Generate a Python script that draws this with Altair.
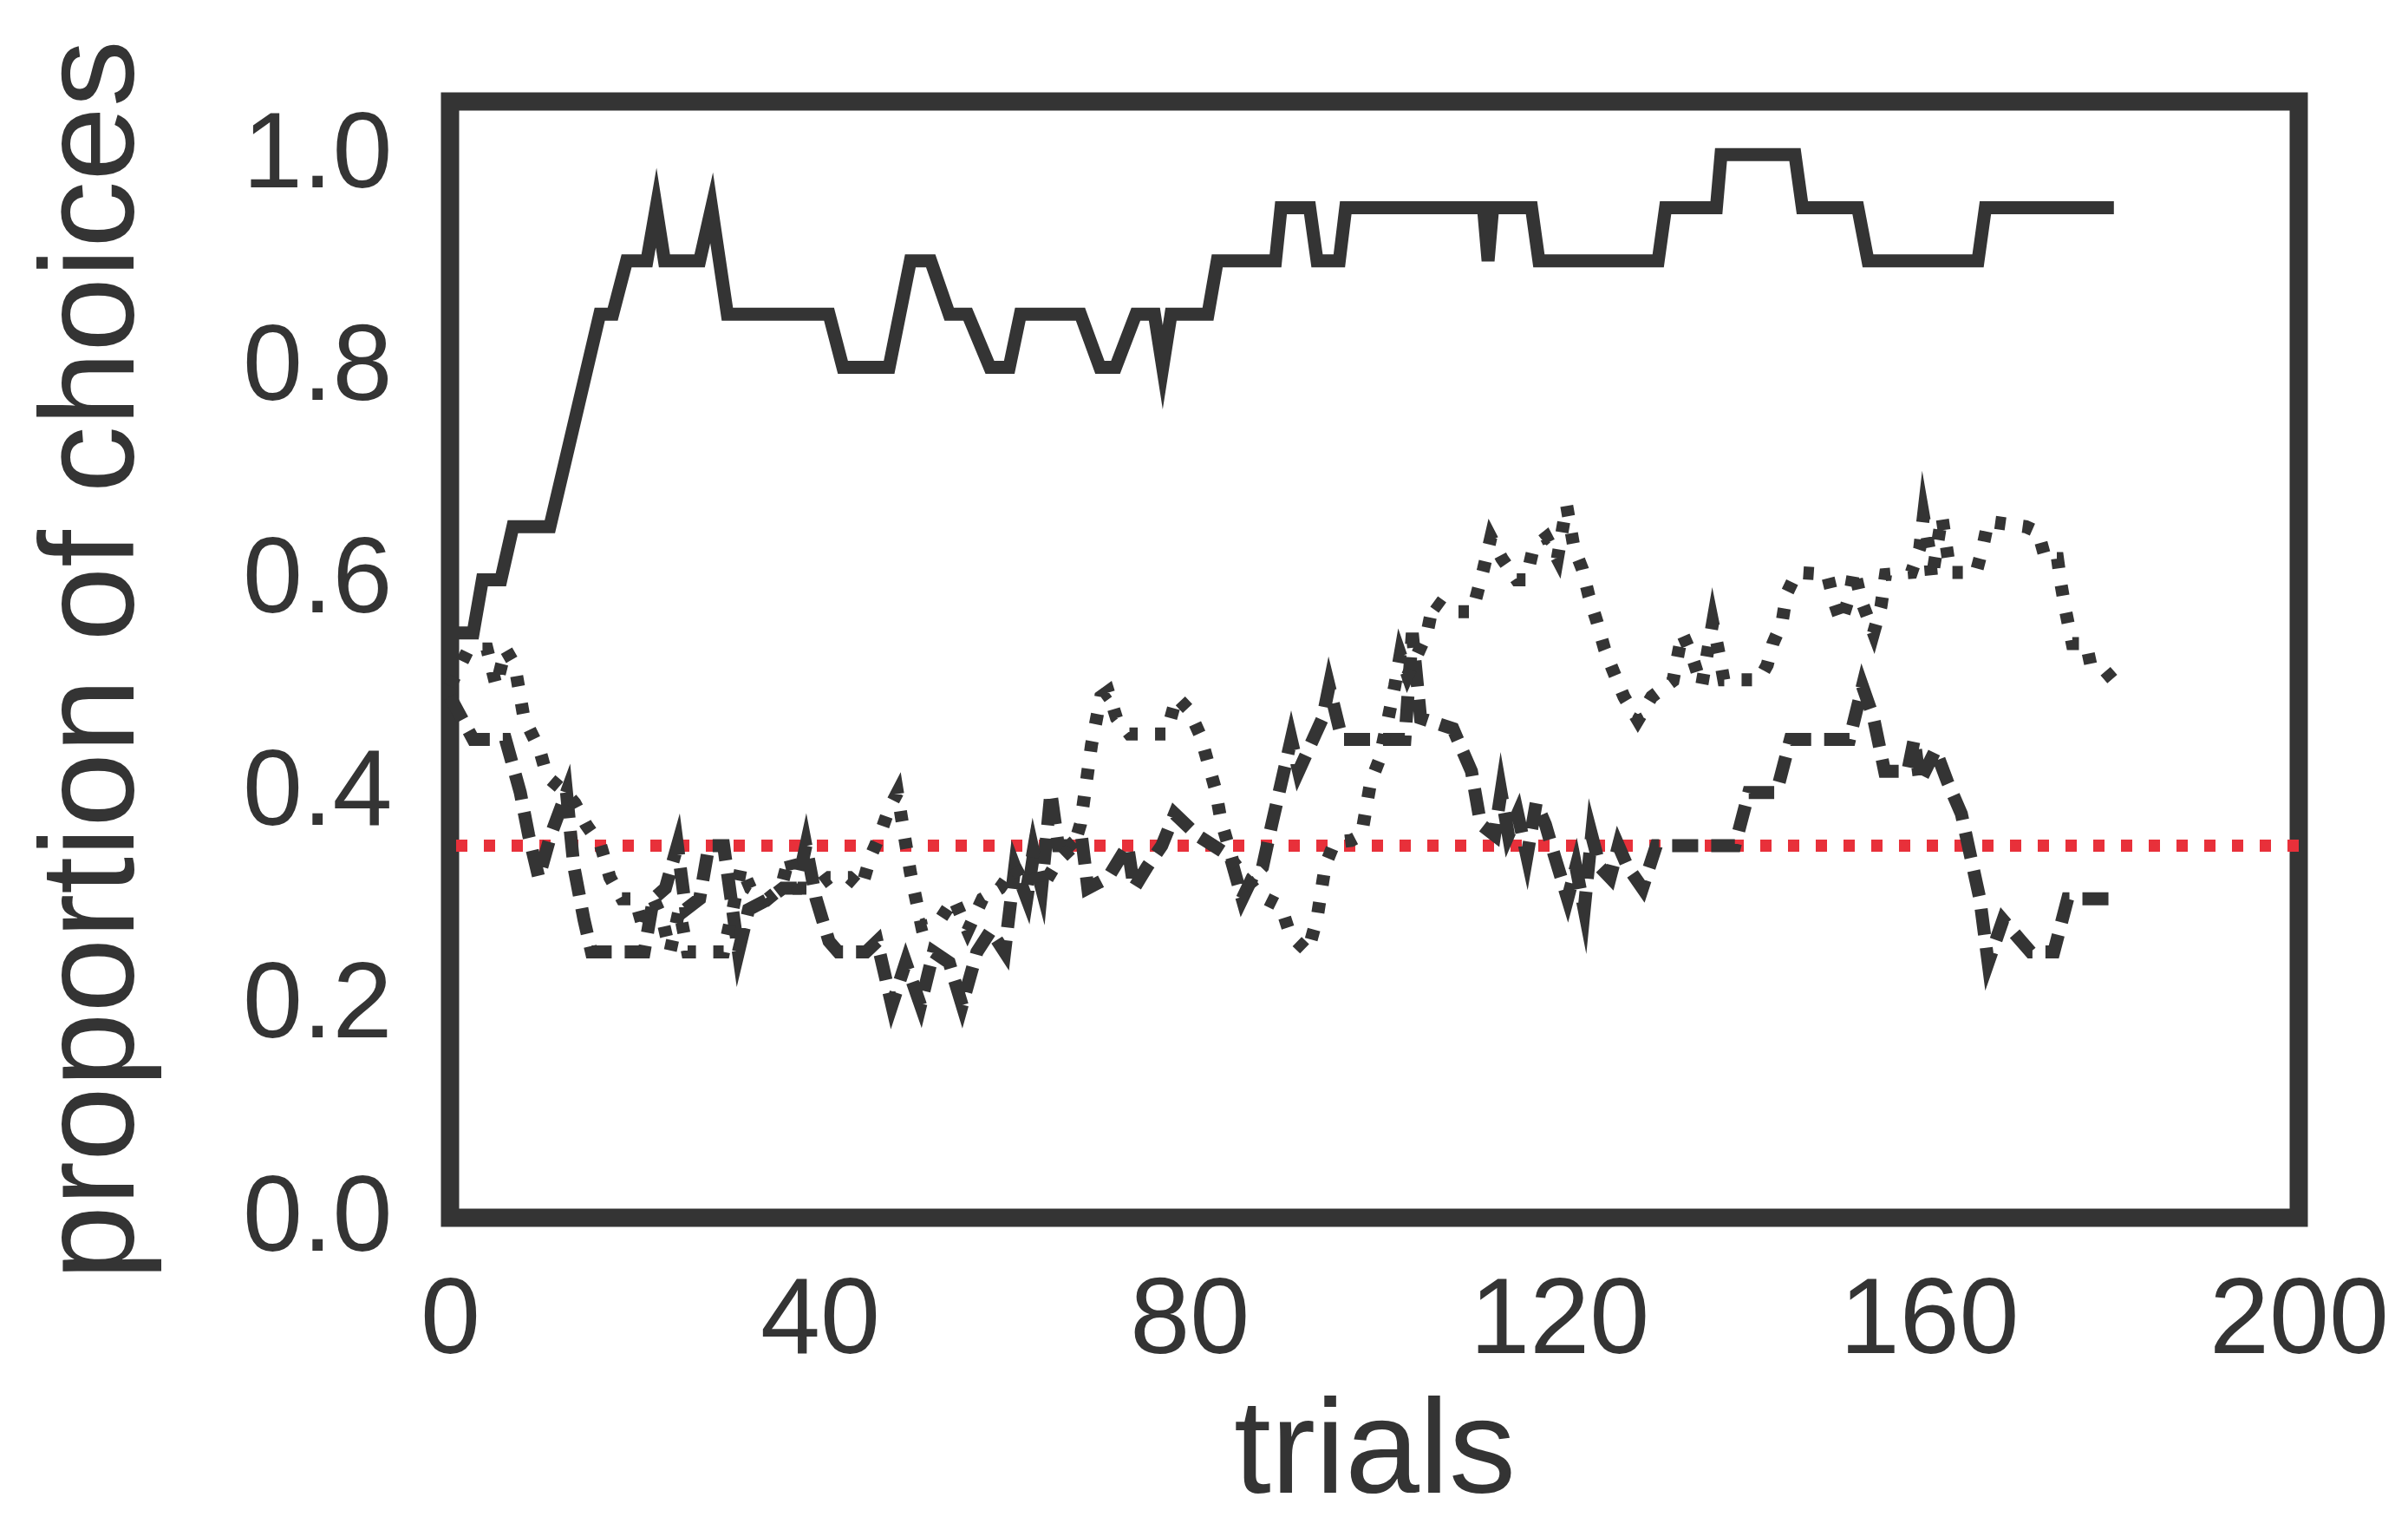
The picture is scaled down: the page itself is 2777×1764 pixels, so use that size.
import altair as alt
import pandas as pd

# ---------------- data ----------------
x_ticks = [0, 40, 80, 120, 160, 200]
y_ticks = [0.0, 0.2, 0.4, 0.6, 0.8, 1.0]
chance_level = [0.35]

solid_trial = [0, 2.5, 3.5, 5.5, 6.8, 10.8, 16.2, 17.6, 19.1, 21.3, 22.3, 23.2,
               27, 28.3, 30, 41, 42.5, 47.5, 49.8, 52, 54, 56, 58.4, 60.5, 61.7, 68.2, 70.3,
               72, 74.2, 76.2, 77.1, 78.0, 82, 83, 89.3, 89.9, 93, 93.8, 96.2, 96.9, 111.8,
               112.3, 112.8, 117, 117.8, 130.7, 131.5, 137, 137.5, 145.5, 146.3, 152.3, 153.4,
               165.3, 166.1, 180]
solid_prop = [.55, .55, .60, .60, .65, .65, .85, .85, .90, .90, .95, .90,
              .90, .95, .85, .85, .80, .80, .90, .90, .85, .85, .80, .80, .85, .85, .80,
              .80, .85, .85, .80, .85, .85, .90, .90, .95, .95, .90, .90, .95, .95,
              .90, .95, .95, .90, .90, .95, .95, 1.0, 1.0, .95, .95, .90,
              .90, .95, .95]

dashed_trial = [0, 2.5, 6, 7.6, 8.5, 9.6, 10.9, 12.6, 13.4, 14.5, 15.3, 21, 22, 23.3, 24.6,
                25.5, 27, 28, 29.6, 31.2, 32.3, 34.5, 36, 37.5, 38.5, 39.6, 41, 42, 45, 46.2,
                47.8, 49.3, 50.9, 52.3, 54, 55.4, 57, 58.5, 60, 61.1, 62.4, 63.1, 64, 65,
                65.8, 67, 68.3, 69, 71.2, 73.3, 74, 75.4, 77, 78.4, 80.8, 84.4, 85.7, 86.8,
                87.9, 88.9, 91, 91.8, 94.4, 95.1, 96.5, 103.3, 104.1, 105, 108.5, 110.5,
                111.5, 113, 113.7, 114.5, 115.5, 116.5, 117.5, 118.5, 119.5, 120.9, 121.8,
                122.7, 123.5, 124.4, 125.5, 126.4, 127.4, 129, 130.5, 139, 140.5, 143.5,
                145, 151.4, 152.8, 154, 155.2, 157.7, 158.4, 159, 160.7, 162, 163.5, 164.5,
                165.5, 166.4, 168, 170, 171, 173.5, 175, 180]
dashed_prop = [.49, .45, .45, .40, .36, .32, .36, .40, .33, .28, .25, .25, .30, .31, .35,
               .29, .30, .35, .35, .25, .29, .30, .31, .31, .35, .30, .26, .25, .25, .26,
               .20, .24, .20, .25, .24, .20, .25, .27, .25, .33, .30, .34, .31, .40,
               .35, .35, .36, .31, .32, .35, .31, .33, .35, .38, .36, .34, .30, .32,
               .33, .37, .45, .42, .47, .50, .45, .45, .55, .47, .46, .42,
               .37, .36, .40, .36, .38, .34, .39, .37, .34, .30, .33,
               .29, .36, .33, .32, .35, .33, .31, .35, .35, .40, .40,
               .45, .45, .50, .47, .42, .42, .45, .41, .44, .41, .38, .34,
               .30, .24, .28, .26, .25, .25, .30, .30]

dotted_trial = [0, 2, 4, 5, 6, 7, 8, 9.7, 10.5, 12.5, 13.5, 14.7, 16.3, 17.3, 18.6, 20, 21,
                22, 23, 23.8, 24.8, 25.7, 29.6, 30.6, 31.5, 32.5, 34.4, 35.8, 36.7, 37.6,
                39.5, 41, 43.2, 44.5, 45.5, 46.5, 47.5, 48.4, 49.8, 51, 53, 54.5, 56, 57.6,
                59.5, 61.1, 62.4, 63.1, 64, 65.7, 67.5, 68.2, 69.4, 70.4, 71.2, 72.1, 73.5,
                77.5, 78.6, 79.9, 81.2, 82.8, 83.4, 84.7, 87.6, 89.9, 90.9, 92.8, 93.8,
                94.7, 95.7, 97.5, 98.6, 99.6, 100.5, 101.5, 102.2, 102.8, 103.6, 105.7,
                106.4, 108, 110.6, 111.2, 111.8, 112.6, 113.8, 115.4, 116.4, 117.2, 118.6,
                119.8, 120.8, 121.6, 122.5, 123.2, 124.1, 124.9, 125.8, 127, 128.5, 130,
                132.3, 133.3, 134.3, 135.4, 136.6, 137.3, 137.8, 141.6, 142.5, 143.1,
                144.1, 144.6, 145.7, 149, 149.7, 150.5, 151.4, 151.9, 152.7, 154, 154.8,
                155.3, 158.1, 159, 159.4, 160, 160.3, 161.4, 162.3, 165.1, 165.8, 166.4,
                170.5, 171.8, 172.6, 173.9, 174.3, 174.8, 175.5, 177, 177.5, 179, 180]
dotted_prop = [.50, .535, .535, .50, .535, .52, .47, .44, .415, .40, .39, .37, .35, .32, .30, .30, .27,
               .30, .28, .25, .29, .25, .25, .29, .33, .31, .30, .31, .34, .31,
               .31, .32, .32, .31, .34, .36, .385, .40, .325, .275, .28, .30, .27, .30,
               .31, .33, .31, .345, .31, .335, .35, .37, .445, .49, .495, .47, .455,
               .455, .49, .478, .453, .403, .374, .335, .303, .293, .266, .25, .282,
               .332, .353, .355, .36, .41, .43, .47, .50, .53, .51, .55,
               .58, .57, .57, .59, .61, .64, .62, .60, .60, .63, .64,
               .62, .67, .63, .61, .585, .56, .535, .515, .49, .468, .49,
               .505, .55, .53, .50, .56, .53, .506, .506, .52, .54,
               .56, .587, .607, .605, .58, .56, .585, .61, .58, .55, .575,
               .605, .607, .63, .66, .63, .60, .66, .607, .607, .63, .655,
               .65, .645, .62, .62, .595, .57, .54, .54, .52, .515, .505]

# ---------------- styles ----------------
INK = "#343434"
RED = "#e8303a"
FONT = "Liberation Sans"


def frame(ts, vs):
    return pd.DataFrame({"trial": ts, "prop": vs, "idx": list(range(len(ts)))})


x_enc = alt.X(
    "trial:Q",
    scale=alt.Scale(domain=[0, 200], nice=False, zero=False),
    axis=alt.Axis(values=x_ticks, title="trials", labelPadding=57,
                  labelFlush=False, labelLimit=1000, titleLimit=3000,
                  titleY=316, titleBaseline="alphabetic"),
)
y_enc = alt.Y(
    "prop:Q",
    scale=alt.Scale(domain=[0, 1.05], nice=False, zero=False),
    axis=alt.Axis(values=y_ticks, format=".1f", title="proportion of choices",
                  labelPadding=67, labelLimit=1000, titleLimit=3000,
                  titleX=-366, titleBaseline="alphabetic"),
)

line_props = dict(color=INK, strokeWidth=15, strokeJoin="miter",
                  strokeMiterLimit=10, strokeCap="butt")

chance = alt.Chart(pd.DataFrame({"prop": chance_level})).mark_rule(
    color=RED, strokeWidth=14, strokeDash=[13, 19], strokeCap="butt"
).encode(y=y_enc)

solid = alt.Chart(frame(solid_trial, solid_prop)).mark_line(**line_props).encode(
    x=x_enc, y=y_enc, order="idx:Q")
dashed = alt.Chart(frame(dashed_trial, dashed_prop)).mark_line(
    strokeDash=[30, 15], **line_props).encode(x=x_enc, y=y_enc, order="idx:Q")
dotted = alt.Chart(frame(dotted_trial, dotted_prop)).mark_line(
    strokeDash=[12, 20], **line_props).encode(x=x_enc, y=y_enc, order="idx:Q")

chart = (
    alt.layer(chance, dashed, dotted, solid)
    .properties(
        width=2132,
        height=1287,
        padding={"left": 511, "top": 109, "right": 118, "bottom": 352},
        autosize=alt.AutoSizeParams(type="none"),
        background="white",
    )
    .configure_view(stroke=INK, strokeWidth=21, fill="white")
    .configure_axis(
        domain=False, ticks=False, tickSize=0, grid=False,
        labelFont=FONT, labelFontSize=124, labelColor=INK,
        titleFont=FONT, titleFontSize=154, titleColor=INK, titleFontWeight="normal",
    )
)

chart.save("out.html", embed_options={"renderer": "svg", "actions": False})
